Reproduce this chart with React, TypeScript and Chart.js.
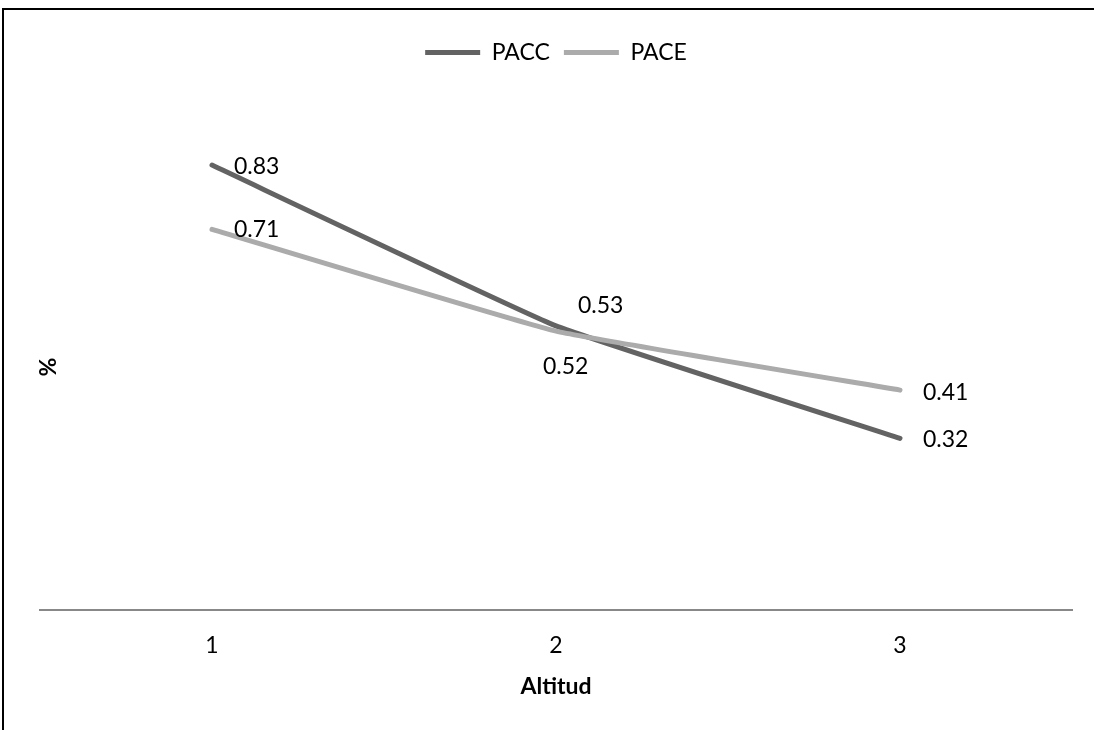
import React, { useEffect, useRef } from "react";
import { Chart, registerables } from "chart.js";

Chart.register(...registerables);

const categories = ["1", "2", "3"];
const paccValues = [0.83, 0.53, 0.32];
const paceValues = [0.71, 0.52, 0.41];
const seriesNames = ["PACC", "PACE"];
const xTitle = "Altitud";
const yTitle = "%";

const FONT = "Lato";

const labelPlugin = {
  id: "pointLabels",
  afterDatasetsDraw(chart: any, _args: any, opts: any) {
    const ctx = chart.ctx;
    ctx.save();
    ctx.font = `23px ${FONT}`;
    ctx.fillStyle = "#000";
    ctx.textAlign = "left";
    ctx.textBaseline = "middle";
    chart.data.datasets.forEach((ds: any, di: number) => {
      const meta = chart.getDatasetMeta(di);
      const offs = opts.offsets[di];
      meta.data.forEach((pt: any, i: number) => {
        const [dx, dy] = offs[i];
        ctx.fillText(String(ds.data[i]), pt.x + dx, pt.y + dy);
      });
    });
    ctx.restore();
  },
};

const yTitlePlugin = {
  id: "yTitleInside",
  afterDraw(chart: any) {
    const ctx = chart.ctx;
    ctx.save();
    ctx.font = `bold 23px ${FONT}`;
    ctx.fillStyle = "#000";
    ctx.textAlign = "center";
    ctx.textBaseline = "middle";
    ctx.translate(49, 367);
    ctx.rotate(-Math.PI / 2);
    ctx.fillText(yTitle, 0, 0);
    ctx.restore();
  },
};

export default function App() {
  const ref = useRef<HTMLCanvasElement>(null);
  useEffect(() => {
    if (!ref.current) return;
    Chart.defaults.font.family = FONT;
    const chart = new Chart(ref.current, {
      type: "line",
      data: {
        labels: categories,
        datasets: [
          {
            label: seriesNames[0],
            data: paccValues,
            borderColor: "#636363",
            backgroundColor: "#636363",
            borderWidth: 5,
            borderCapStyle: "round",
            borderJoinStyle: "round",
            pointRadius: 0,
            tension: 0.1,
            order: 1,
          },
          {
            label: seriesNames[1],
            data: paceValues,
            borderColor: "#ababab",
            backgroundColor: "#ababab",
            borderWidth: 5,
            borderCapStyle: "round",
            borderJoinStyle: "round",
            pointRadius: 0,
            tension: 0.1,
            order: 0,
          },
        ],
      },
      options: {
        responsive: false,
        animation: false,
        devicePixelRatio: 1,
        layout: { padding: { left: 40, right: 22, top: 27, bottom: 26 } },
        scales: {
          x: {
            type: "category",
            offset: true,
            grid: { display: false },
            border: { display: true, color: "#888888", width: 2 },
            ticks: { color: "#000", font: { size: 23, family: FONT }, padding: 14 },
            title: {
              display: true,
              text: xTitle,
              color: "#000",
              font: { size: 23, weight: "bold", family: FONT },
              padding: { top: -1, bottom: 4 },
            },
          },
          y: {
            display: false,
            min: 0,
            max: 1,
          },
        },
        plugins: {
          legend: {
            display: true,
            position: "top",
            labels: {
              color: "#000",
              font: { size: 23, family: FONT },
              boxWidth: 55,
              boxHeight: 5,
              padding: 14,
              sort: (a: any, b: any) => a.datasetIndex - b.datasetIndex,
              generateLabels: (c: any) =>
                (Chart.defaults.plugins.legend.labels as any)
                  .generateLabels(c)
                  .map((l: any) => ({ ...l, lineWidth: 0, fillStyle: l.strokeStyle })),
            },
          },
          tooltip: { enabled: false },
          pointLabels: {
            offsets: [
              [[22, 1], [22, -20], [23, 1]],
              [[22, 0], [-13, 35], [23, 2]],
            ],
          },
        } as any,
      },
      plugins: [labelPlugin, yTitlePlugin],
    });
    return () => chart.destroy();
  }, []);

  return (
    <div
      style={{
        position: "absolute",
        left: 0,
        top: 0,
        width: 1094,
        height: 730,
        overflow: "hidden",
        background: "#fff",
      }}
    >
      <canvas ref={ref} width={1094} height={730} style={{ position: "absolute", left: 0, top: 0 }} />
      <div
        style={{
          position: "absolute",
          left: 2,
          top: 8,
          width: 3000,
          height: 3000,
          border: "2px solid #000",
          pointerEvents: "none",
        }}
      />
    </div>
  );
}
